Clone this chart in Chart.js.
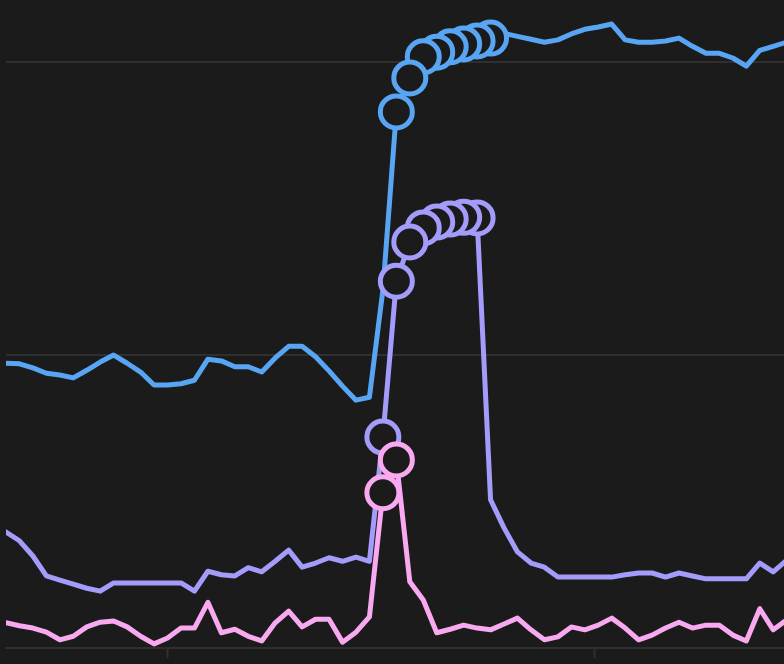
<!DOCTYPE html>
<html>
<head>
  <meta charset="utf-8">
  <title>Three series line chart</title>
  <script src="https://cdn.jsdelivr.net/npm/chart.js"></script>
  <style>
    html, body { margin: 0; padding: 0; background: #1b1b1b; }
    .chart-container { position: relative; width: 784px; height: 664px; }
  </style>
</head>
<body>
  <div class="chart-container">
    <canvas id="chart"></canvas>
  </div>

  <script>
    // Sample positions along the x axis
    const steps = [
      0, 1, 2, 3, 4, 5, 6, 7, 8, 9,
      10, 11, 12, 13, 14, 15, 16, 17, 18, 19,
      20, 21, 22, 23, 24, 25, 26, 27, 28, 29,
      30, 31, 32, 33, 34, 35, 36, 37, 38, 39,
      40, 41, 42, 43, 44, 45, 46, 47, 48, 49,
      50, 51, 52, 53, 54, 55, 56, 57, 58
    ];

    // Tick marks under the x axis
    const xTicks = [12, 43.75];

    // Gridline values on the y axis
    const yTicks = [0, 50, 100];

    const blueValues = [
      48.6, 48.5, 47.8, 46.9, 46.6, 46.1, 47.4, 48.8, 50.0, 48.6,
      47.1, 44.9, 44.9, 45.1, 45.7, 49.3, 49.0, 48.0, 48.0, 47.1,
      49.5, 51.5, 51.5, 49.7, 47.3, 44.7, 42.3, 42.8, 61.1, 91.5,
      97.3, 100.9, 101.7, 102.6, 103.1, 103.6, 104.1, 104.9, 104.4, 103.9,
      103.4, 103.8, 104.8, 105.6, 106.0, 106.5, 103.8, 103.4, 103.4, 103.6,
      104.1, 102.7, 101.5, 101.5, 100.7, 99.3, 102.0, 102.7, 103.4
    ];

    const purpleValues = [
      19.8, 18.3, 15.7, 12.3, 11.6, 10.9, 10.2, 9.7, 11.1, 11.1,
      11.1, 11.1, 11.1, 11.1, 9.7, 13.1, 12.5, 12.3, 13.7, 13.0,
      14.8, 16.7, 13.8, 14.5, 15.4, 14.8, 15.5, 14.8, 36.0, 62.6,
      69.3, 71.7, 72.7, 73.2, 73.5, 73.4, 25.3, 20.5, 16.4, 14.5,
      13.8, 12.1, 12.1, 12.1, 12.1, 12.1, 12.5, 12.8, 12.8, 12.1,
      12.8, 12.3, 11.8, 11.8, 11.8, 11.8, 14.5, 13.0, 15.0
    ];

    const pinkValues = [
      4.3, 3.8, 3.4, 2.7, 1.4, 2.0, 3.6, 4.4, 4.6, 3.6,
      2.0, 0.7, 1.7, 3.4, 3.4, 7.8, 2.6, 3.2, 2.0, 1.2,
      4.3, 6.3, 3.6, 4.9, 4.9, 1.0, 2.7, 5.3, 26.5, 32.1,
      11.3, 8.2, 2.6, 3.2, 3.9, 3.4, 3.1, 4.1, 5.1, 3.1,
      1.4, 1.9, 3.6, 3.1, 3.9, 5.1, 3.4, 1.4, 2.2, 3.4,
      4.4, 3.4, 3.9, 3.9, 2.2, 1.2, 6.7, 3.1, 4.8
    ];

    // Steps that are marked with a ring, per series
    const blueMarked = [29, 30, 31, 32, 33, 34, 35, 36];
    const purpleMarked = [28, 29, 30, 31, 32, 33, 34, 35];
    const pinkMarked = [28, 29];

    const background = '#1b1b1b';
    const gridColor = '#2f2f2f';

    // Points are handed over right to left so the earlier rings sit on top
    function toPoints(values) {
      return values.map((v, i) => ({ x: steps[i], y: v })).reverse();
    }

    function makeDataset(label, values, marked, color, order) {
      return {
        label: label,
        data: toPoints(values),
        borderColor: color,
        borderWidth: 5,
        borderJoinStyle: 'round',
        borderCapStyle: 'round',
        tension: 0,
        pointBackgroundColor: background,
        pointBorderColor: color,
        pointBorderWidth: 5,
        pointRadius: ctx => marked.includes(ctx.raw.x) ? 16 : 0,
        pointHoverRadius: ctx => marked.includes(ctx.raw.x) ? 16 : 0,
        order: order
      };
    }

    new Chart(document.getElementById('chart'), {
      type: 'line',
      data: {
        datasets: [
          makeDataset('Blue', blueValues, blueMarked, '#58a6f3', 3),
          makeDataset('Purple', purpleValues, purpleMarked, '#a39cfb', 2),
          makeDataset('Pink', pinkValues, pinkMarked, '#f8a9ef', 1)
        ]
      },
      options: {
        responsive: true,
        maintainAspectRatio: false,
        animation: false,
        layout: { padding: { left: 6, right: 0, top: 0, bottom: 6 } },
        plugins: {
          legend: { display: false },
          tooltip: { enabled: false }
        },
        scales: {
          x: {
            type: 'linear',
            min: 0,
            max: 57.8,
            afterBuildTicks: axis => { axis.ticks = xTicks.map(v => ({ value: v })); },
            ticks: { display: false },
            grid: {
              drawOnChartArea: false,
              drawTicks: true,
              tickLength: 10,
              tickWidth: 2,
              tickColor: gridColor
            },
            border: { display: true, color: gridColor, width: 2 }
          },
          y: {
            min: 0,
            max: 110.6,
            afterBuildTicks: axis => { axis.ticks = yTicks.map(v => ({ value: v })); },
            ticks: { display: false },
            grid: {
              color: gridColor,
              lineWidth: 2,
              drawTicks: false
            },
            border: { display: false }
          }
        }
      }
    });
  </script>
</body>
</html>
